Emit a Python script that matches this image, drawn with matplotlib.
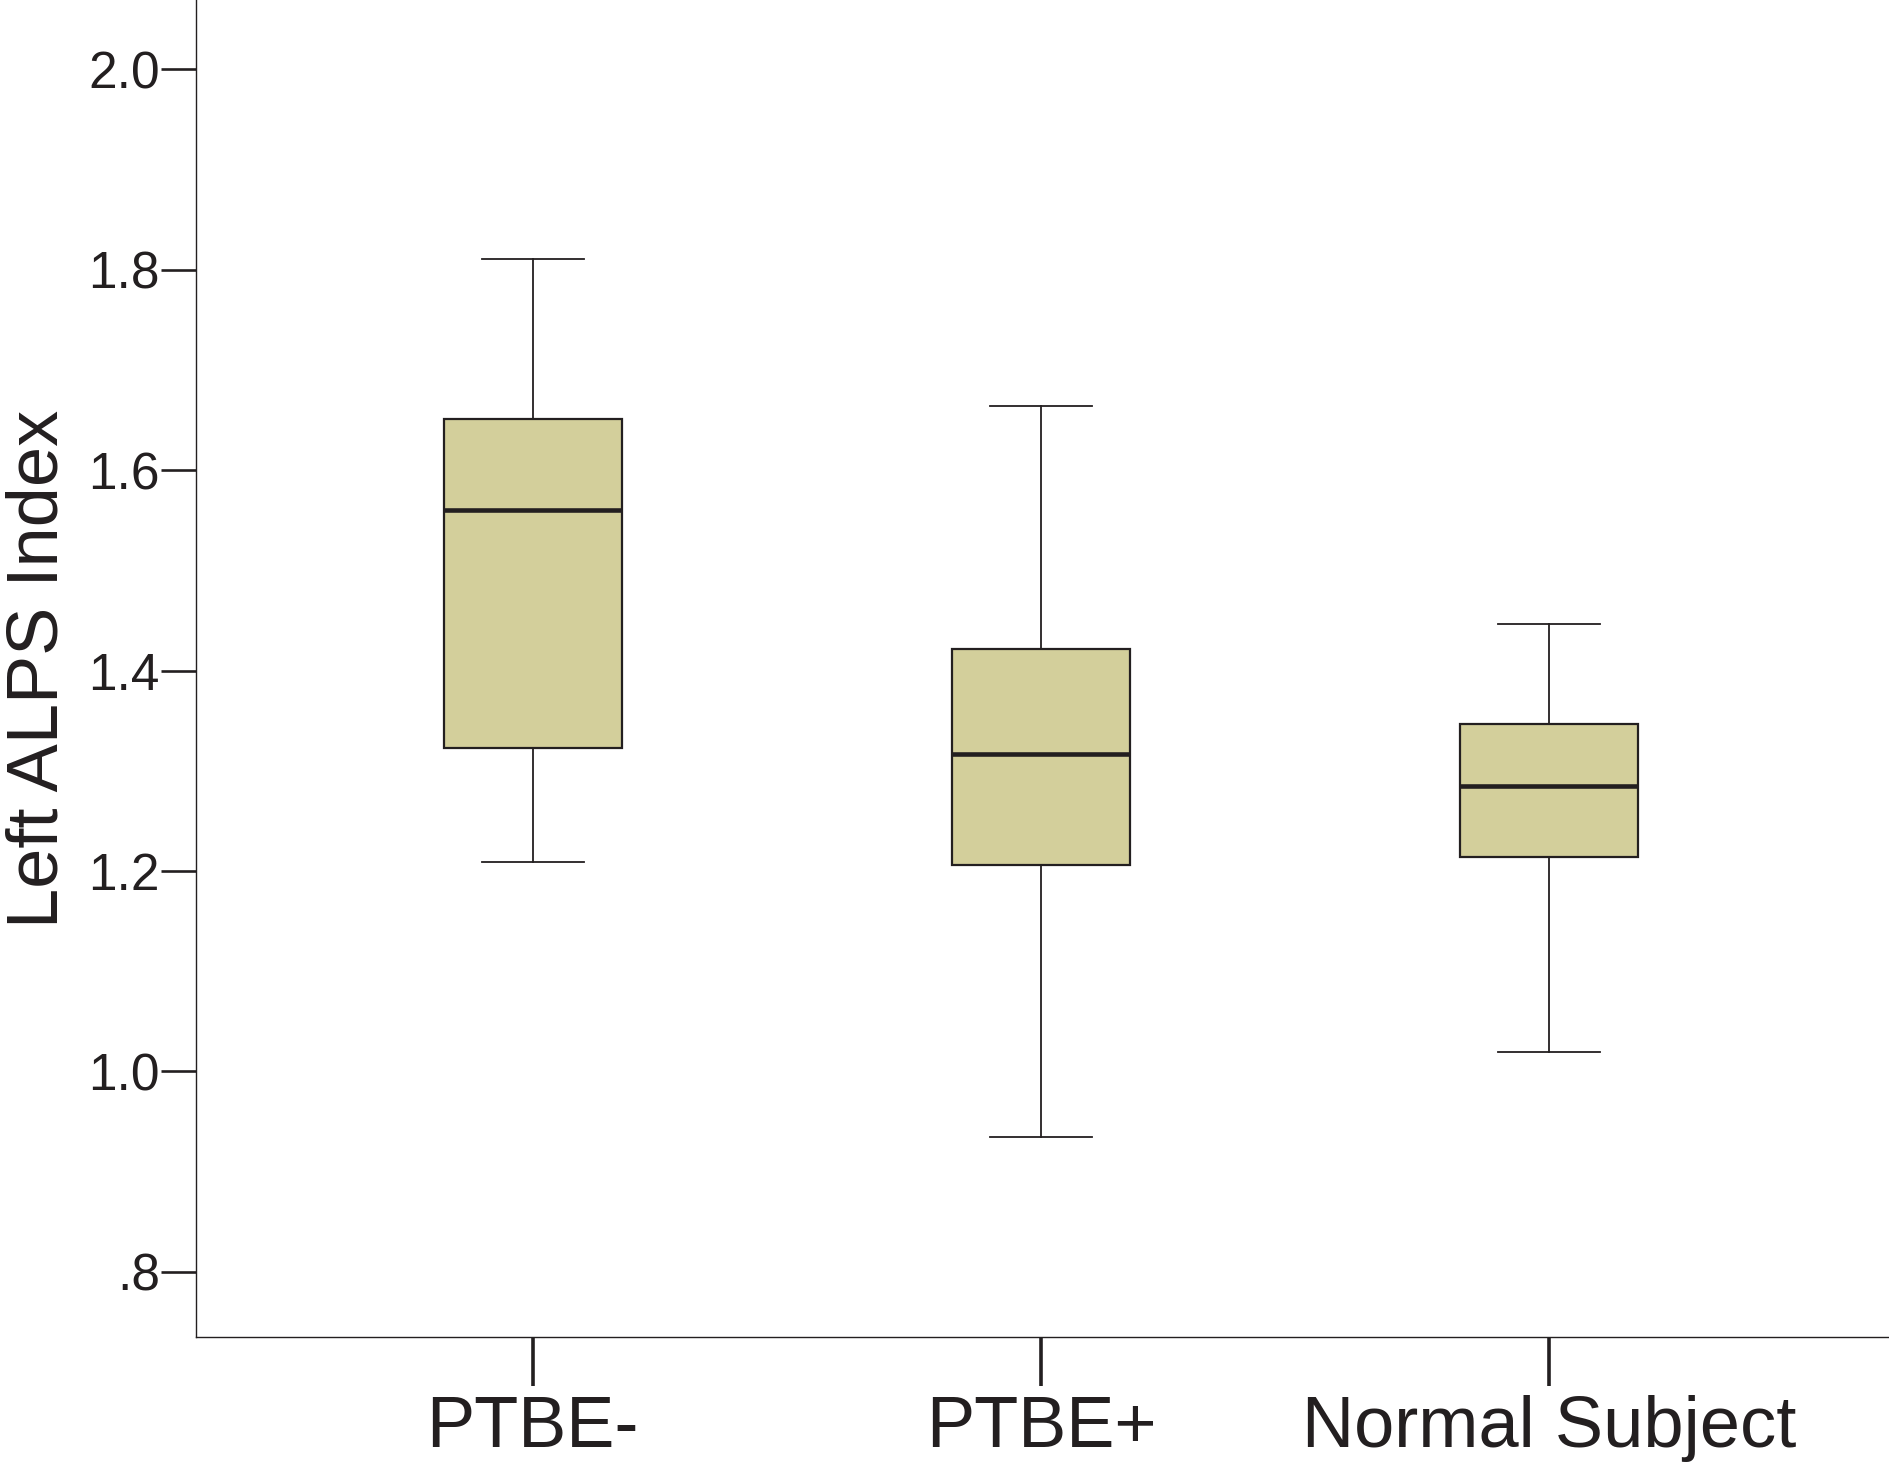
import matplotlib
matplotlib.use("Agg")
import matplotlib.pyplot as plt

categories = ["PTBE-", "PTBE+", "Normal Subject"]
whisker_low = [1.209, 0.935, 1.019]
q1 = [1.3225, 1.206, 1.214]
median = [1.560, 1.3165, 1.285]
q3 = [1.651, 1.421, 1.347]
whisker_high = [1.811, 1.664, 1.446]

y_ticks = [0.8, 1.0, 1.2, 1.4, 1.6, 1.8, 2.0]
y_tick_labels = [".8", "1.0", "1.2", "1.4", "1.6", "1.8", "2.0"]
y_label = "Left ALPS Index"

plt.rcParams['font.family'] = ['Liberation Sans', 'DejaVu Sans']
ink = "#231F20"
fill = "#D3CF9B"

fig = plt.figure(figsize=(18.9, 14.73), dpi=100)
ax = fig.add_axes([196 / 1890, 1 - 1337 / 1473, 1 - 196 / 1890, 1337 / 1473])

stats = []
for i, name in enumerate(categories):
    stats.append(dict(label=name, whislo=whisker_low[i], q1=q1[i], med=median[i],
                      q3=q3[i], whishi=whisker_high[i], fliers=[]))

positions = list(range(1, len(categories) + 1))
ax.bxp(stats, positions=positions, widths=0.35, capwidths=0.2, patch_artist=True,
       showfliers=False,
       boxprops=dict(facecolor=fill, edgecolor=ink, linewidth=1.6),
       medianprops=dict(color=ink, linewidth=3.3, solid_capstyle='butt'),
       whiskerprops=dict(color=ink, linewidth=1.3),
       capprops=dict(color=ink, linewidth=1.3))

ax.set_xlim(0.337, 3.671)
ax.set_ylim(0.735, 2.069)
ax.set_yticks(y_ticks)
ax.set_yticklabels(y_tick_labels)
ax.set_xticks(positions)
ax.set_xticklabels(categories)

for s in ["top", "right"]:
    ax.spines[s].set_visible(False)
for s in ["left", "bottom"]:
    ax.spines[s].set_linewidth(1.0)
    ax.spines[s].set_color(ink)

ax.tick_params(axis='y', direction='out', length=25, width=1.9, color=ink,
               labelsize=37, labelcolor=ink, pad=1)
ax.tick_params(axis='x', direction='out', length=35, width=2.6, color=ink,
               labelsize=52, labelcolor=ink, pad=7)

ax.set_ylabel(y_label, fontsize=52, color=ink)
ax.yaxis.set_label_coords(-0.073, 0.5)

fig.savefig("out.png", dpi=100, facecolor="white")
